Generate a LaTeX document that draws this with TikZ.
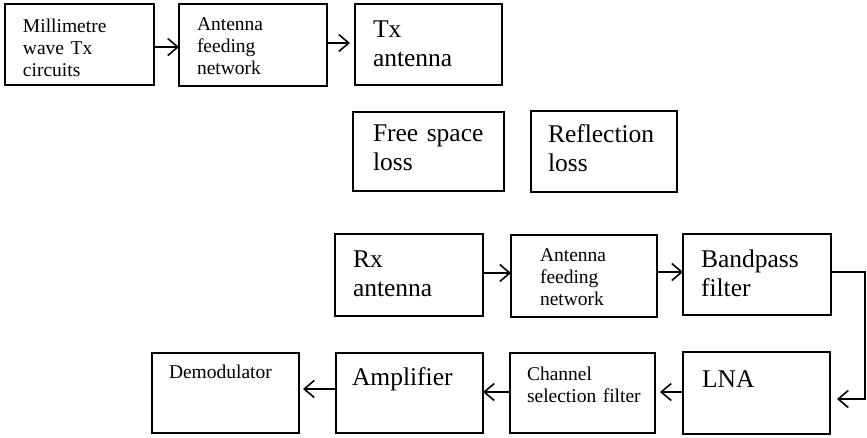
\documentclass[tikz,border=0pt]{standalone}
\usepackage{fontspec}
\setmainfont{Liberation Serif}
\usetikzlibrary{arrows.meta}
\tikzset{
  box/.style={draw, line width=1.5pt, inner sep=0pt, outer sep=0pt, anchor=north west},
  txt/.style={anchor=base west, inner sep=0pt, outer sep=0pt, text width=140pt, align=left},
  big/.style={font=\fontsize{25.5}{29}\selectfont},
  small/.style={font=\fontsize{19.5}{22}\selectfont},
  arr/.style={line width=1.5pt, -{Straight Barb[length=10pt,width=17pt,line width=1.6pt]}}
}
\begin{document}
\begin{tikzpicture}[x=1pt,y=-1pt]
\useasboundingbox (0,0) rectangle (867,437);
% boxes
\node[box, minimum width=149pt, minimum height=81pt] (b1) at (5,4) {};
\node[box, minimum width=148pt, minimum height=82pt] (b2) at (179,4) {};
\node[box, minimum width=147pt, minimum height=81pt] (b3) at (355,4) {};
\node[box, minimum width=151pt, minimum height=79pt] (b4) at (353,112) {};
\node[box, minimum width=146pt, minimum height=81pt] (b5) at (531,111) {};
\node[box, minimum width=148pt, minimum height=82pt] (b6) at (335,234) {};
\node[box, minimum width=146pt, minimum height=82pt] (b7) at (511,235) {};
\node[box, minimum width=148pt, minimum height=81pt] (b8) at (683,234) {};
\node[box, minimum width=147pt, minimum height=82pt] (b9) at (683,352) {};
\node[box, minimum width=145pt, minimum height=80pt] (b10) at (510,353) {};
\node[box, minimum width=147pt, minimum height=80pt] (b11) at (336,353) {};
\node[box, minimum width=147pt, minimum height=80pt] (b12) at (152,353) {};
% texts
\node[txt, small] (t1) at (23,32) {Millimetre\\wave Tx\\circuits};
\node[txt, small] (t2) at (197,30) {Antenna\\feeding\\network};
\node[txt, big] (t3) at (373,37) {Tx\\antenna};
\node[txt, big] (t4) at (373,141) {Free space\\loss};
\node[txt, big] (t5) at (548,142) {Reflection\\loss};
\node[txt, big] (t6) at (353,267) {Rx\\antenna};
\node[txt, small] (t7) at (540,261) {Antenna\\feeding\\network};
\node[txt, big] (t8) at (701,267) {Bandpass\\filter};
\node[txt, big] (t9) at (702,387) {LNA};
\node[txt, small] (t10) at (527,380) {Channel\\selection filter};
\node[txt, big] (t11) at (352,385) {Amplifier};
\node[txt, small] (t12) at (169,378) {Demodulator};
% connectors
\draw[arr] ([yshift=-2.5pt]b1.east) -- ([yshift=-2.5pt]b1.east -| b2.west);
\draw[arr, shorten >=5pt] ([yshift=2pt]b2.east) -- ([yshift=2pt]b2.east -| b3.west);
\draw[arr] ([yshift=2pt]b6.east) -- ([yshift=2pt]b6.east -| b7.west);
\draw[arr] ([yshift=4pt]b7.east) -- ([yshift=4pt]b7.east -| b8.west);
\coordinate (c1) at ([xshift=35pt,yshift=-6pt]b9.east);
\draw[arr, line width=1.2pt, shorten >=7pt] ([yshift=2.5pt]b8.east) -| (c1) -- ([yshift=-6pt]b9.east);
\draw[arr, shorten >=5pt] ([yshift=1pt]b9.west) -- ([yshift=1pt]b9.west -| b10.east);
\draw[arr] ([yshift=1pt]b10.west) -- ([yshift=1pt]b10.west -| b11.east);
\draw[arr, shorten >=4pt] ([yshift=4pt]b11.west) -- ([yshift=4pt]b11.west -| b12.east);
\end{tikzpicture}
\end{document}
